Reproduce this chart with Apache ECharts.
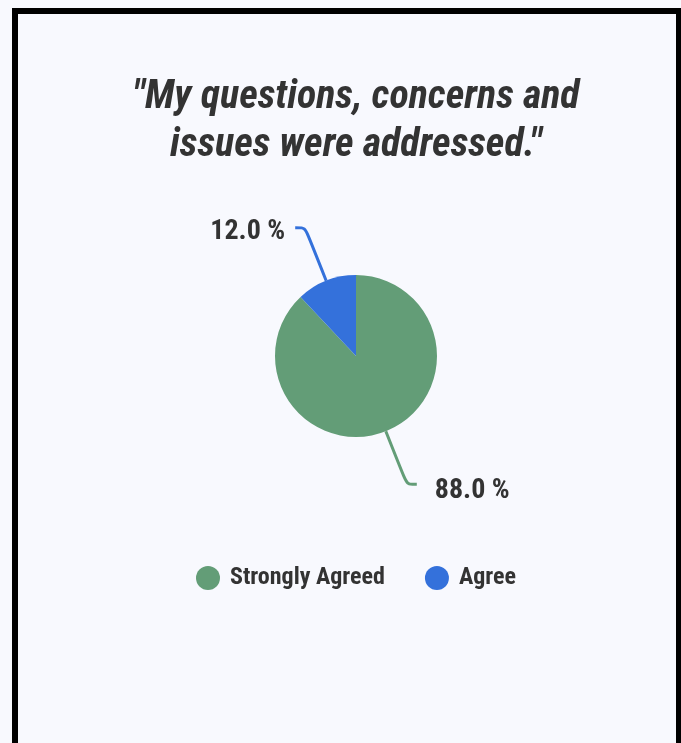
<!DOCTYPE html>
<html>
<head>
<meta charset="utf-8">
<script src="https://cdn.jsdelivr.net/npm/echarts@6/dist/echarts.min.js"></script>
<style>
  html, body { margin: 0; padding: 0; background: #f8f9fe; }
  #chart { width: 681px; height: 743px; }
</style>
</head>
<body>
<div id="chart"></div>
<script>
// Survey response shares
const categories = ['Strongly Agreed', 'Agree'];
const values = [88, 12];
const colors = ['#639d77', '#3471db'];
const titleText = '"My questions, concerns and\nissues were addressed."';

const FONT = '"Roboto Condensed", "Liberation Sans Narrow", "DejaVu Sans Condensed", Roboto, sans-serif';
const TEXT = '#333333';
// gap between the end of each leader line and its label
const labelGaps = [18, 10];
// small downward nudge of each label relative to its leader line
const labelNudge = [7, 4];

const chart = echarts.init(document.getElementById('chart'), null, { renderer: 'canvas' });

chart.setOption({
  backgroundColor: '#f8f9fe',
  animation: false,
  color: colors,
  graphic: [{
    type: 'rect',
    shape: { x: 15, y: 11, width: 664, height: 800 },
    style: { fill: 'none', stroke: '#000', lineWidth: 6 },
    silent: true
  }],
  title: {
    text: titleText,
    left: 351,
    textAlign: 'center',
    top: 69,
    textStyle: {
      fontFamily: FONT,
      fontSize: 40,
      fontStyle: 'italic',
      fontWeight: 'bold',
      lineHeight: 48,
      color: TEXT
    }
  },
  legend: {
    left: 191,
    top: 561,
    icon: 'circle',
    itemWidth: 24,
    itemHeight: 24,
    itemGap: 40,
    data: categories,
    textStyle: {
      fontFamily: FONT,
      fontSize: 24,
      fontWeight: 'bold',
      color: TEXT,
      padding: [0, 0, 0, 5]
    }
  },
  series: [{
    type: 'pie',
    center: [356, 356],
    radius: 81,
    startAngle: 90,
    clockwise: true,
    avoidLabelOverlap: false,
    data: categories.map((name, i) => ({
      name,
      value: values[i],
      label: { distanceToLabelLine: labelGaps[i] }
    })),
    label: {
      show: true,
      formatter: p => p.percent.toFixed(1) + ' %',
      fontFamily: FONT,
      fontSize: 28,
      fontWeight: 'bold',
      color: TEXT
    },
    labelLayout: p => ({ dy: labelNudge[p.dataIndex] }),
    labelLine: {
      show: true,
      length: 57,
      length2: 10,
      smooth: 0.3,
      lineStyle: { width: 3 }
    },
    emphasis: { disabled: true }
  }]
});
</script>
</body>
</html>
